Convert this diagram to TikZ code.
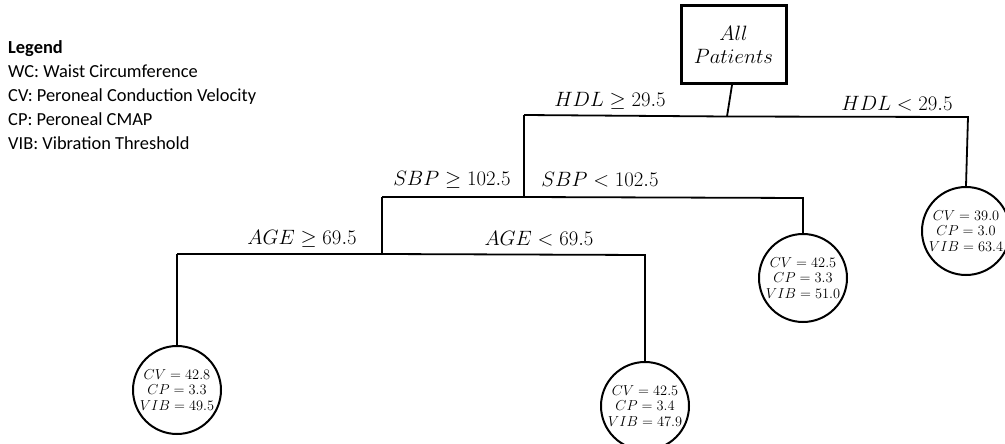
\documentclass[tikz,border=0pt]{standalone}
\usepackage{fontspec}
\newfontfamily\legendfont{Carlito}
\begin{document}
\begin{tikzpicture}[x=1pt,y=-1pt,
  branch/.style={line width=1.8pt},
  leaf/.style={circle,draw,line width=2pt,minimum size=88pt,inner sep=0pt,align=center,font=\fontsize{14}{15.5}\selectfont},
  rootbox/.style={rectangle,draw,line width=3pt,minimum width=105pt,minimum height=78pt,align=center,font=\fontsize{20.5}{23}\selectfont},
  cond/.style={font=\fontsize{21}{24}\selectfont,inner sep=0pt},
  legendtext/.style={anchor=north west,align=left,inner sep=0pt,font=\legendfont\fontsize{18.4}{24}\selectfont}]
\useasboundingbox (0,0) rectangle (1005,444);
% legend
\node[legendtext] (legend) at (8,40) {\textbf{Legend}\\WC: Waist Circumference\\CV: Peroneal Conduction Velocity\\CP: Peroneal CMAP\\VIB: Vibration Threshold};
% root
\node[rootbox] (root) at (733.5,44.5) {$All$\\$Patients$};
% leaves
\node[leaf] (c1) at (966,231) {$CV=39.0$\\$CP=3.0$\\$VIB=63.4$};
\node[leaf] (c2) at (803,278) {$CV=42.5$\\$CP=3.3$\\$VIB=51.0$};
\node[leaf] (c3) at (177,390) {$CV=42.8$\\$CP=3.3$\\$VIB=49.5$};
\node[leaf] (c4) at (645,406) {$CV=42.5$\\$CP=3.4$\\$VIB=47.9$};
% junctions
\coordinate (j1) at (727,116.5);
\coordinate (hL) at (524,115);
\coordinate (hR) at (968,117);
\coordinate (sL) at (382,197);
\coordinate (sM) at (524,197);
\coordinate (sR) at (803,198);
\coordinate (aL) at (177,254);
\coordinate (aM) at (382,254);
\coordinate (aR) at (645,255);
% connectors
\draw[branch] ([xshift=-1.5pt]root.south) -- (j1);
\draw[branch] (hL) -- (j1) -- (hR) -- (c1.north);
\draw[branch] (hL) -- (sM);
\draw[branch] (sL) -- (sM) -- (sR) -- (c2.north);
\draw[branch] (sL) -- (aM);
\draw[branch] (aL) -- (aM) -- (aR) -- (c4.north);
\draw[branch] (aL) -- (c3.north);
% condition labels
\node[cond] (l1) at (610,101) {$HDL \geq 29.5$};
\node[cond] (l2) at (897,104) {$HDL < 29.5$};
\node[cond] (l3) at (452,180) {$SBP \geq 102.5$};
\node[cond] (l4) at (600,180) {$SBP < 102.5$};
\node[cond] (l5) at (302,239) {$AGE \geq 69.5$};
\node[cond] (l6) at (539,239) {$AGE < 69.5$};
\end{tikzpicture}
\end{document}
